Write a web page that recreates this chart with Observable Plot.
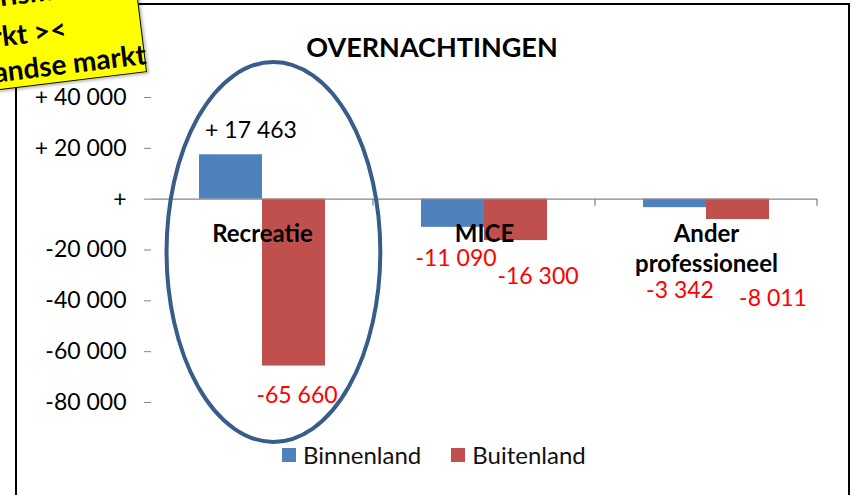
<!DOCTYPE html>
<html>
<head>
<meta charset="utf-8">
<script src="https://cdn.jsdelivr.net/npm/d3@7"></script>
<script src="https://cdn.jsdelivr.net/npm/@observablehq/plot@0.6"></script>
<style>
  html, body { margin: 0; padding: 0; background: #fff; }
  #wrap { position: relative; width: 855px; height: 495px; overflow: hidden; font-family: Lato, "Open Sans", sans-serif; }
  #frame { position: absolute; left: 15px; top: 3px; width: 831px; height: 490px;
           border-left: 2px solid #000; border-top: 2px solid #000; border-right: 2px solid #000; border-bottom: 1px solid #c8c8c8; }
  #chart { position: absolute; left: 0; top: 0; }
  #title { position: absolute; left: 0; width: 864px; top: 30px; text-align: center; font-weight: bold; font-size: 27px; color: #000; }
  #legend { position: absolute; left: 282px; top: 440px; display: flex; align-items: center; font-size: 24px; color: #111; }
  #legend .sw { width: 14px; height: 14px; margin-right: 7px; }
  #legend .item { display: flex; align-items: center; margin-right: 30px; }
  #note { position: absolute; width: 320px; height: 130px; left: -173px; top: -58px; background: #ffff00;
          border: 1.5px solid #000; box-sizing: border-box; transform-origin: 100% 100%; transform: rotate(-7deg);
          font-weight: bold; font-size: 28px; color: #000; box-shadow: 2px 2px 3px rgba(0,0,0,0.25); }
  #note span { position: absolute; white-space: nowrap; line-height: 1; }
</style>
</head>
<body>
<div id="wrap">
  <div id="frame"></div>
  <div id="title"></div>
  <div id="chart"></div>
  <div id="legend"></div>
  <div id="note"></div>
</div>
<script>
// ---- data ----
const titleText = "OVERNACHTINGEN";
const categories = ["Recreatie", "MICE", "Ander professioneel"];
const categoryLabels = ["Recreatie", "MICE", "Ander\nprofessioneel"];
const series = ["Binnenland", "Buitenland"];
const binnenland = [17463, -11090, -3342];
const buitenland = [-65660, -16300, -8011];
const yTicks = [40000, 20000, 0, -20000, -40000, -60000, -80000];
const yTickLabels = ["+ 40 000", "+ 20 000", "+", "-20 000", "-40 000", "-60 000", "-80 000"];
const noteLines = ["Toerisme", "binnenlandse markt ><", "buitenlandse markt"];
const highlightCategory = "Recreatie";

// ---- styles ----
const seriesColors = ["#4F81BD", "#C0504D"];
const axisGray = "#868686";
// label nudges (px) for each value label, in row order
const labelNudge = [[20, -24], [3, 30], [3, 31], [22, 36], [5, 83], [35, 79]];
const labelColor = ["#000000", "#FF0000", "#FF0000", "#FF0000", "#FF0000", "#FF0000"];

function fmtSigned(v) {
  if (v === 0) return "+";
  const s = d3.format(",")(Math.abs(v)).replace(/,/g, " ");
  return v > 0 ? "+ " + s : "-" + s;
}

const rows = [];
categories.forEach((c, i) => {
  rows.push({category: c, series: series[0], value: binnenland[i]});
  rows.push({category: c, series: series[1], value: buitenland[i]});
});

const valueLabelMarks = rows.map((r, i) => Plot.text([r], {
  fx: "category", x: "series", y: "value",
  text: d => fmtSigned(d.value),
  dx: labelNudge[i][0], dy: labelNudge[i][1],
  fill: labelColor[i], fontSize: 23, textAnchor: "middle", lineAnchor: "middle"
}));

const plot = Plot.plot({
  width: 855, height: 450,
  marginLeft: 150, marginRight: 37, marginTop: 97, marginBottom: 48,
  style: {fontFamily: "Lato, 'Open Sans', sans-serif", fontSize: "23px", background: "transparent", overflow: "visible"},
  fx: {domain: categories, padding: 0, axis: null},
  x: {domain: series, paddingInner: 0, paddingOuter: 0.754, axis: null},
  y: {domain: [-80000, 40000], axis: null},
  color: {domain: series, range: seriesColors},
  marks: [
    Plot.barY(rows, {fx: "category", x: "series", y: "value", fill: "series"}),
    Plot.ruleY([0], {stroke: axisGray, strokeWidth: 1.3}),
    Plot.axisY({anchor: "left", ticks: yTicks, tickFormat: d => yTickLabels[yTicks.indexOf(d)],
      tickSize: 7, tickPadding: 18, line: true, stroke: axisGray, fill: "#000", fontSize: 23}),
    Plot.text(categories, {fx: d => d, y: () => 0, text: d => categoryLabels[categories.indexOf(d)],
      fontWeight: "bold", fontSize: 24, lineAnchor: "top", lineHeight: 1.25, dy: 22, fill: "#000"}),
    ...valueLabelMarks
  ]
});
document.getElementById("chart").appendChild(plot);

// extra decorations computed from the plot's scales
const fx = plot.scale("fx");
const y = plot.scale("y");
const svg = d3.select(plot);
const bw = fx.bandwidth;
const y0 = y.apply(0);
// category boundary ticks on the x axis
categories.forEach(c => {
  const xr = fx.apply(c) + bw;
  svg.append("line").attr("x1", xr).attr("x2", xr).attr("y1", y0).attr("y2", y0 + 7)
    .attr("stroke", axisGray).attr("stroke-width", 1.3);
});
// highlight ellipse around a category
{
  const x1 = fx.apply(highlightCategory) + 0.07 * bw;
  const x2 = fx.apply(highlightCategory) + 1.033 * bw;
  const yT = y.apply(53800), yB = y.apply(-95700);
  svg.append("ellipse")
    .attr("cx", (x1 + x2) / 2).attr("cy", (yT + yB) / 2)
    .attr("rx", (x2 - x1) / 2).attr("ry", (yB - yT) / 2)
    .attr("fill", "none").attr("stroke", "#385D8A").attr("stroke-width", 4);
}

// title
document.getElementById("title").textContent = titleText;

// legend
const legend = document.getElementById("legend");
series.forEach((s, i) => {
  const item = document.createElement("div");
  item.className = "item";
  const sw = document.createElement("div");
  sw.className = "sw";
  sw.style.background = seriesColors[i];
  const lab = document.createElement("span");
  lab.textContent = s;
  item.appendChild(sw); item.appendChild(lab);
  legend.appendChild(item);
});

// sticky note
const note = document.getElementById("note");
const notePos = [{right: 68, bottom: 79}, {right: 74, bottom: 39}, {right: -2, bottom: 4}];
noteLines.forEach((t, i) => {
  const sp = document.createElement("span");
  sp.textContent = t;
  sp.style.right = notePos[i].right + "px";
  sp.style.bottom = notePos[i].bottom + "px";
  note.appendChild(sp);
});
</script>
</body>
</html>
